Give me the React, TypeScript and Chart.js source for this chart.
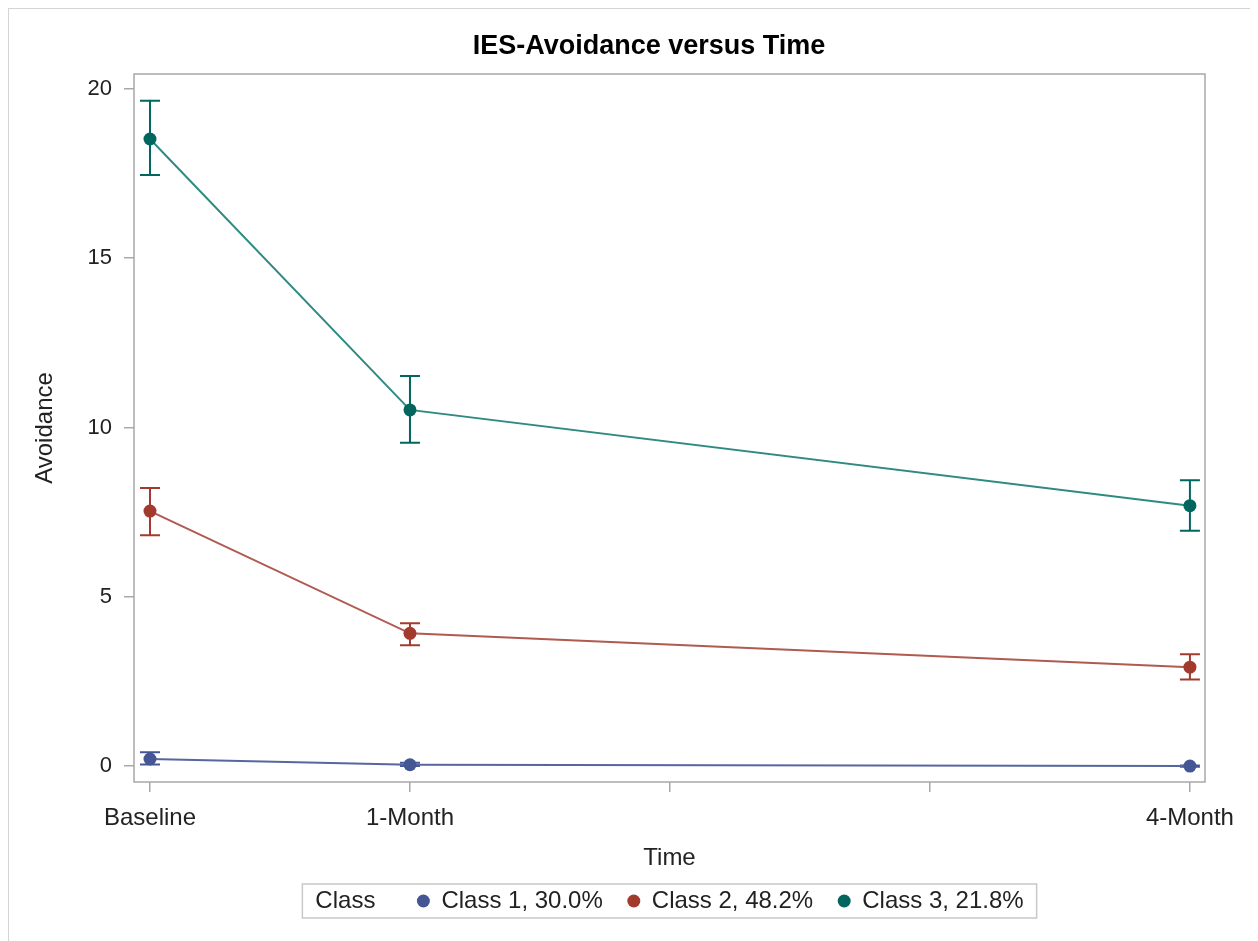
import React, { useEffect, useRef } from "react";
import { Chart, registerables } from "chart.js";

Chart.register(...registerables);

const timePoints = [0, 1, 4];
const xTickValues = [0, 1, 2, 3, 4];
const xTickLabels: Record<number, string> = { 0: "Baseline", 1: "1-Month", 4: "4-Month" };
const yTickValues = [0, 5, 10, 15, 20];

const seriesNames = ["Class 1, 30.0%", "Class 2, 48.2%", "Class 3, 21.8%"];
const seriesColors = ["#445694", "#A23A2E", "#01665E"];
const lineColors = ["#5566a0", "#b05a50", "#2f8a82"];

const class1Mean = [0.21, 0.04, 0.0];
const class1Low = [0.05, 0.0, -0.02];
const class1High = [0.41, 0.1, 0.02];

const class2Mean = [7.53, 3.92, 2.92];
const class2Low = [6.82, 3.57, 2.56];
const class2High = [8.21, 4.22, 3.3];

const class3Mean = [18.52, 10.52, 7.69];
const class3Low = [17.46, 9.55, 6.95];
const class3High = [19.65, 11.52, 8.44];

const means = [class1Mean, class2Mean, class3Mean];
const lows = [class1Low, class2Low, class3Low];
const highs = [class1High, class2High, class3High];

const FONT = "Arial, 'Liberation Sans', sans-serif";

export default function App() {
  const ref = useRef<HTMLCanvasElement | null>(null);

  useEffect(() => {
    if (!ref.current) return;

    const errorBars = {
      id: "errorBars",
      beforeDatasetsDraw(chart: any) {
        const ctx = chart.ctx;
        const xs = chart.scales.x;
        const ys = chart.scales.y;
        ctx.save();
        for (let s = 0; s < means.length; s++) {
          ctx.strokeStyle = seriesColors[s];
          ctx.lineWidth = 2;
          for (let i = 0; i < timePoints.length; i++) {
            const x = xs.getPixelForValue(timePoints[i]);
            const yl = ys.getPixelForValue(lows[s][i]);
            const yh = ys.getPixelForValue(highs[s][i]);
            ctx.beginPath();
            ctx.moveTo(x, yl);
            ctx.lineTo(x, yh);
            ctx.moveTo(x - 10, yl);
            ctx.lineTo(x + 10, yl);
            ctx.moveTo(x - 10, yh);
            ctx.lineTo(x + 10, yh);
            ctx.stroke();
          }
        }
        ctx.restore();
      },
    };

    const decor = {
      id: "decor",
      afterDraw(chart: any) {
        const ctx = chart.ctx;
        const a = chart.chartArea;
        ctx.save();
        // frame
        ctx.strokeStyle = "#a8a8a8";
        ctx.lineWidth = 1.5;
        ctx.strokeRect(a.left, a.top, a.right - a.left, a.bottom - a.top);
        // title
        ctx.fillStyle = "#000";
        ctx.font = `bold 27px ${FONT}`;
        ctx.textAlign = "center";
        ctx.textBaseline = "middle";
        ctx.fillText("IES-Avoidance versus Time", 640, 38);
        // axis titles
        ctx.font = `24px ${FONT}`;
        ctx.fillStyle = "#222";
        ctx.fillText("Time", (a.left + a.right) / 2, 849);
        ctx.save();
        ctx.translate(36, (a.top + a.bottom) / 2);
        ctx.rotate(-Math.PI / 2);
        ctx.fillText("Avoidance", 0, 0);
        ctx.restore();
        // legend
        ctx.font = `24px ${FONT}`;
        ctx.textAlign = "left";
        const head = "Class";
        const headW = ctx.measureText(head).width;
        const gapAfterHead = 48;
        const markerToText = 18;
        const itemGap = 31;
        const widths = seriesNames.map((n) => ctx.measureText(n).width);
        let total = headW + gapAfterHead;
        widths.forEach((w, i) => {
          total += markerToText + w + (i < widths.length - 1 ? itemGap : 0);
        });
        const padX = 13;
        const boxW = total + padX * 2;
        const boxL = (a.left + a.right) / 2 - boxW / 2;
        const boxT = 875;
        const boxH = 34;
        ctx.strokeStyle = "#c8c8c8";
        ctx.lineWidth = 1.5;
        ctx.strokeRect(boxL, boxT, boxW, boxH);
        const cy = boxT + boxH / 2;
        let x = boxL + padX;
        ctx.fillStyle = "#222";
        ctx.fillText(head, x, cy);
        x += headW + gapAfterHead;
        seriesNames.forEach((n, i) => {
          ctx.fillStyle = seriesColors[i];
          ctx.beginPath();
          ctx.arc(x, cy, 6.5, 0, Math.PI * 2);
          ctx.fill();
          x += markerToText;
          ctx.fillStyle = "#222";
          ctx.fillText(n, x, cy);
          x += widths[i] + itemGap;
        });
        ctx.restore();
      },
    };

    const chart = new Chart(ref.current, {
      type: "line",
      data: {
        datasets: means.map((m, s) => ({
          label: seriesNames[s],
          data: m.map((v, i) => ({ x: timePoints[i], y: v })),
          borderColor: lineColors[s],
          backgroundColor: seriesColors[s],
          pointBackgroundColor: seriesColors[s],
          pointBorderColor: seriesColors[s],
          pointRadius: 6.5,
          pointBorderWidth: 0,
          borderWidth: 2,
          tension: 0,
          fill: false,
        })),
      },
      options: {
        animation: false,
        responsive: false,
        maintainAspectRatio: false,
        layout: { padding: { left: 0, right: 49, top: 65, bottom: 0 } },
        plugins: {
          legend: { display: false },
          title: { display: false },
          tooltip: { enabled: false },
        },
        scales: {
          x: {
            type: "linear",
            min: -0.0615,
            max: 4.058,
            afterBuildTicks: (scale: any) => {
              scale.ticks = xTickValues.map((v) => ({ value: v }));
            },
            afterFit: (scale: any) => {
              scale.height = 167;
              scale.paddingLeft = 0;
              scale.paddingRight = 0;
            },
            ticks: {
              autoSkip: false,
              maxRotation: 0,
              padding: 12,
              color: "#222",
              font: { size: 24, family: FONT },
              callback: (v: any) => xTickLabels[v as number] ?? "",
            },
            grid: {
              drawOnChartArea: false,
              drawTicks: true,
              tickLength: 10,
              color: "#a8a8a8",
              lineWidth: 1.5,
            },
            border: { display: false },
          },
          y: {
            type: "linear",
            min: -0.47,
            max: 20.44,
            afterBuildTicks: (scale: any) => {
              scale.ticks = yTickValues.map((v) => ({ value: v }));
            },
            afterFit: (scale: any) => {
              scale.width = 125;
              scale.paddingTop = 0;
              scale.paddingBottom = 0;
            },
            ticks: {
              padding: 12,
              color: "#222",
              font: { size: 22, family: FONT },
            },
            grid: {
              drawOnChartArea: false,
              drawTicks: true,
              tickLength: 10,
              color: "#a8a8a8",
              lineWidth: 1.5,
            },
            border: { display: false },
          },
        },
      },
      plugins: [errorBars, decor],
    });

    return () => chart.destroy();
  }, []);

  return (
    <div
      style={{
        width: 1245,
        height: 940,
        border: "1px solid #d4d4d4",
        position: "relative",
        background: "#fff",
      }}
    >
      <canvas ref={ref} width={1245} height={940} style={{ display: "block" }} />
    </div>
  );
}
